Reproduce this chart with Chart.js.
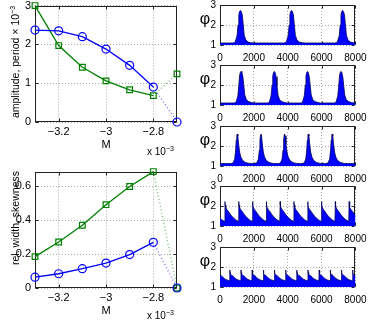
<!DOCTYPE html>
<html>
<head>
<meta charset="utf-8">
<script src="https://cdn.jsdelivr.net/npm/chart.js"></script>
<style>
  body { margin: 0; background: #fff; }
  #fig { position: relative; width: 374px; height: 322px; overflow: hidden; font-family: "Liberation Sans", Arial, sans-serif; color: #000; }
  #fig canvas { position: absolute; }
  .lbl { position: absolute; white-space: nowrap; line-height: 1; }
  .ytitle { font-size: 10.5px; transform: translate(-50%, -50%) rotate(-90deg); }
  .exp { font-size: 10px; }
  sup { font-size: 7px; vertical-align: 4px; line-height: 0; }
  .phi { font-size: 16px; transform: translate(-50%, -50%); }
</style>
</head>
<body>
<div id="fig">
  <canvas id="amp" width="190" height="157" style="left:0;top:-5px"></canvas>
  <canvas id="width" width="190" height="157" style="left:0;top:161px"></canvas>
  <div class="lbl ytitle" style="left:15px;top:62px">amplitude, period × 10<sup>−3</sup></div>
  <div class="lbl ytitle" style="left:15px;top:218px">rel. width, skewness</div>
  <div class="lbl exp" style="left:147px;top:147px">x 10<sup>−3</sup></div>
  <div class="lbl exp" style="left:147px;top:311px">x 10<sup>−3</sup></div>
</div>
<script>
// left panels: values against M (x 10^-3)
const M = [-3.3, -3.2, -3.1, -3.0, -2.9, -2.8, -2.7];
const amplitude = [2.37, 2.35, 2.2, 1.88, 1.46, 0.9, 0];
const period = [3.0, 1.97, 1.41, 1.06, 0.83, 0.68, 1.24];
const relWidth = [0.064, 0.084, 0.114, 0.147, 0.197, 0.269, 0];
const skewness = [0.185, 0.271, 0.37, 0.491, 0.598, 0.686, 0];

const mTicks = [-3.2, -3.0, -2.8];
const ampTicks = [0, 1, 2, 3];
const widthTicks = [0, 0.2, 0.4, 0.6];
const timeTicks = [0, 2000, 4000, 6000, 8000];
const phiTicks = [1, 2, 3];

// right panels: spike times of phi_2, top to bottom
const peaks1 = [1205, 4225, 7243];
const peaks2 = [1245, 3208, 5170, 7150];
const peaks3 = [1020, 2420, 3820, 5220, 6630];
const peaks4 = [-520, 295, 1110, 1925, 2740, 3555, 4370, 5185, 6000, 6815, 7630];
const peaks5 = [-80, 580, 1240, 1900, 2560, 3220, 3880, 4540, 5200, 5860, 6520, 7180, 7840];

// shape of one spike: offset from the peak and phi value
const shape1dx = [-450, -320, -200, -140, -95, -50, 0, 55, 115, 170, 230, 320, 450, 650, 820];
const shape1y  = [1.1, 1.13, 1.45, 2.0, 2.49, 2.68, 2.73, 2.68, 2.49, 2.0, 1.48, 1.26, 1.15, 1.11, 1.1];
const shape2dx = [-420, -300, -190, -130, -90, -45, 0, 50, 105, 160, 220, 310, 440, 620, 780];
const shape2y  = [1.1, 1.13, 1.45, 2.0, 2.45, 2.63, 2.68, 2.62, 2.42, 1.98, 1.5, 1.28, 1.17, 1.12, 1.1];
const shape3dx = [-380, -250, -150, -95, -60, -25, 0, 35, 80, 140, 210, 320, 480, 700, 950];
const shape3y  = [1.12, 1.15, 1.35, 1.8, 2.3, 2.55, 2.6, 2.5, 2.1, 1.7, 1.45, 1.28, 1.18, 1.13, 1.12];
const shape4dx = [-20, 0, 15, 50, 110, 204, 300, 408, 510, 611, 700];
const shape4y  = [1.24, 2.22, 2.05, 1.92, 1.82, 1.73, 1.6, 1.49, 1.4, 1.32, 1.27];
const shape5dx = [-15, 0, 12, 40, 90, 165, 250, 330, 415, 495, 580];
const shape5y  = [1.32, 1.85, 1.72, 1.64, 1.6, 1.56, 1.49, 1.43, 1.38, 1.35, 1.33];

const panelTops = [5, 65, 126, 186, 247];
const BLUE = '#0000ff';
const GREEN = '#008000';

Chart.defaults.font.family = '"Liberation Sans", Arial, sans-serif';
Chart.defaults.color = '#000';

function spikes(peaks, dx, ys, edge) {
  const pts = [];
  if (edge) pts.push({x: 0, y: ys[0]});
  peaks.forEach(p => dx.forEach((d, i) => pts.push({x: p + d, y: ys[i]})));
  if (edge) pts.push({x: 8000, y: ys[ys.length - 1]});
  return pts;
}

// matlab style box with inward ticks
const boxPlugin = {
  id: 'box',
  beforeDatasetsDraw(chart) {
    const {ctx, chartArea: a, scales} = chart;
    const l = Math.round(a.left) + 0.5, r = Math.round(a.right) - 0.5;
    const t = Math.round(a.top) + 0.5, b = Math.round(a.bottom) - 0.5;
    ctx.save();
    ctx.strokeStyle = '#222';
    ctx.lineWidth = 1;
    ctx.strokeRect(l, t, r - l, b - t);
    ctx.beginPath();
    scales.x.ticks.forEach(tk => {
      const px = Math.round(scales.x.getPixelForValue(tk.value)) + 0.5;
      ctx.moveTo(px, b); ctx.lineTo(px, b - 3);
      ctx.moveTo(px, t); ctx.lineTo(px, t + 3);
    });
    scales.y.ticks.forEach(tk => {
      const py = Math.round(scales.y.getPixelForValue(tk.value)) + 0.5;
      ctx.moveTo(l, py); ctx.lineTo(l + 3, py);
      ctx.moveTo(r, py); ctx.lineTo(r - 3, py);
    });
    ctx.stroke();
    ctx.restore();
  }
};

const minus = v => String(v).replace('-', '\u2212');
const isLast = ctx => ctx.p1DataIndex === M.length - 1;

function seriesSet(ys, color, faint, style) {
  return {
    data: M.map((m, i) => ({x: m, y: ys[i]})),
    borderColor: color,
    borderWidth: 1.3,
    pointStyle: style,
    pointRadius: 4,
    pointBorderWidth: 1.2,
    pointBorderColor: color,
    pointBackgroundColor: 'rgba(0,0,0,0)',
    segment: {
      borderDash: ctx => isLast(ctx) ? [1, 2.5] : undefined,
      borderColor: ctx => isLast(ctx) ? faint : undefined
    },
    clip: false,
    tension: 0
  };
}

function lineChart(id, blueYs, greenYs, yTicks, yMax) {
  new Chart(document.getElementById(id), {
    type: 'line',
    data: {datasets: [
      seriesSet(blueYs, BLUE, 'rgba(0,0,255,0.6)', 'circle'),
      seriesSet(greenYs, GREEN, 'rgba(0,128,0,0.55)', 'rect')
    ]},
    options: {
      responsive: false,
      animation: false,
      layout: {padding: {top: 10, right: 13, left: 0, bottom: 0}},
      plugins: {legend: {display: false}, tooltip: {enabled: false}},
      scales: {
        x: {
          type: 'linear', min: M[0], max: M[M.length - 1],
          afterBuildTicks: s => { s.ticks = mTicks.map(v => ({value: v})); },
          afterFit: s => { s.height = 30; },
          ticks: {font: {size: 11}, padding: 3, callback: minus},
          grid: {drawTicks: false, color: '#aaa'},
          border: {display: false, dash: [1, 2]},
          title: {display: true, text: 'M', font: {size: 11}, padding: 0}
        },
        y: {
          min: 0, max: yMax,
          afterBuildTicks: s => { s.ticks = yTicks.map(v => ({value: v})); },
          afterFit: s => { s.width = 35; },
          ticks: {font: {size: 11}, padding: 4},
          grid: {drawTicks: false, color: '#aaa'},
          border: {display: false, dash: [1, 2]}
        }
      }
    },
    plugins: [boxPlugin]
  });
}

lineChart('amp', amplitude, period, ampTicks, 3);
lineChart('width', relWidth, skewness, widthTicks, 0.686);

const phiSeries = [
  spikes(peaks1, shape1dx, shape1y, true),
  spikes(peaks2, shape2dx, shape2y, true),
  spikes(peaks3, shape3dx, shape3y, true),
  spikes(peaks4, shape4dx, shape4y, false),
  spikes(peaks5, shape5dx, shape5y, false)
];

const fig = document.getElementById('fig');
phiSeries.forEach((pts, k) => {
  const cv = document.createElement('canvas');
  cv.width = 184;
  cv.height = 66;
  cv.style.left = '190px';
  cv.style.top = (panelTops[k] - 10) + 'px';
  fig.appendChild(cv);

  const phi = document.createElement('div');
  phi.className = 'lbl phi';
  phi.style.left = '205px';
  phi.style.top = (panelTops[k] + 14) + 'px';
  phi.textContent = 'φ';
  fig.appendChild(phi);

  new Chart(cv, {
    type: 'line',
    data: {datasets: [{
      data: pts,
      borderColor: '#00005a',
      borderWidth: 0.8,
      backgroundColor: BLUE,
      fill: 'start',
      pointRadius: 0,
      tension: 0
    }]},
    options: {
      responsive: false,
      animation: false,
      layout: {padding: {top: 10, right: 12, left: 0, bottom: 0}},
      plugins: {legend: {display: false}, tooltip: {enabled: false}},
      scales: {
        x: {
          type: 'linear', min: 0, max: 8000,
          afterBuildTicks: s => { s.ticks = timeTicks.map(v => ({value: v})); },
          afterFit: s => { s.height = 16; },
          ticks: {font: {size: 10}, padding: 7.5, callback: v => String(v)},
          grid: {drawTicks: false, color: '#aaa'},
          border: {display: false, dash: [1, 2]}
        },
        y: {
          min: 1, max: 3,
          afterBuildTicks: s => { s.ticks = phiTicks.map(v => ({value: v})); },
          afterFit: s => { s.width = 30; },
          ticks: {font: {size: 10}, padding: 4},
          grid: {drawTicks: false, color: '#aaa'},
          border: {display: false, dash: [1, 2]}
        }
      }
    },
    plugins: [boxPlugin]
  });
});
</script>
</body>
</html>
